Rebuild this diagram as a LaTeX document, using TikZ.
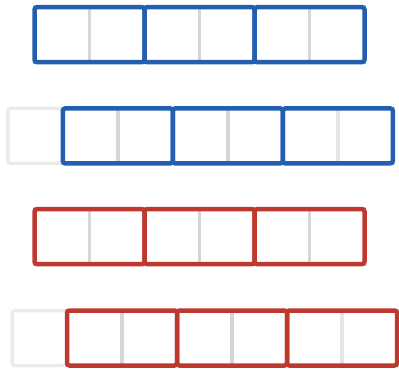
\documentclass[tikz,border=0pt]{standalone}
\usetikzlibrary{positioning,fit}
\definecolor{wordblue}{HTML}{235EB0}
\definecolor{wordred}{HTML}{BE382E}
\definecolor{divgray}{HTML}{D6D6D6}
\definecolor{fadegray}{HTML}{E6E6E6}
\definecolor{padgray}{HTML}{EBEBEB}
\begin{document}
\begin{tikzpicture}[x=1pt, y=-1pt, node distance=0pt,
		cell/.style={draw=divgray, line width=3.5pt, minimum size=55pt, inner sep=0pt, outer sep=0pt},
		pad/.style={cell, draw=padgray, rounded corners=3pt},
		pair/.style={draw=#1, line width=4.5pt, rounded corners=2.5pt, inner sep=0pt, outer sep=0pt}]
		\useasboundingbox (0,0) rectangle (399,368);

		% Row 1: aligned, blue
		\node[cell] (a1) at (62,34.7) {};
		\foreach \i [count=\j from 2] in {1,...,5}
			\node[cell, right=of a\i] (a\j) {};
		\foreach \i/\j in {1/2,3/4,5/6}
			\node[pair=wordblue, fit=(a\i)(a\j)] (a\i\j) {};

		% Row 2: shifted by one, blue
		\node[pad] (bpad) at (35.3,135.9) {};
		\node[cell, right=of bpad] (b1) {};
		\foreach \i [count=\j from 2] in {1,...,4}
			\node[cell, right=of b\i] (b\j) {};
		\node[cell, draw=fadegray, right=of b5] (b6) {};
		\foreach \i/\j in {1/2,3/4,5/6}
			\node[pair=wordblue, fit=(b\i)(b\j)] (b\i\j) {};

		% Row 3: aligned, red
		\node[cell] (c1) at (62,236.6) {};
		\foreach \i [count=\j from 2] in {1,...,5}
			\node[cell, right=of c\i] (c\j) {};
		\foreach \i/\j in {1/2,3/4,5/6}
			\node[pair=wordred, fit=(c\i)(c\j)] (c\i\j) {};

		% Row 4: shifted by one, red
		\node[pad] (dpad) at (39.5,338) {};
		\node[cell, right=of dpad] (d1) {};
		\foreach \i [count=\j from 2] in {1,...,4}
			\node[cell, right=of d\i] (d\j) {};
		\node[cell, draw=fadegray, right=of d5] (d6) {};
		\foreach \i/\j in {1/2,3/4,5/6}
			\node[pair=wordred, fit=(d\i)(d\j)] (d\i\j) {};
	\end{tikzpicture}
\end{document}
